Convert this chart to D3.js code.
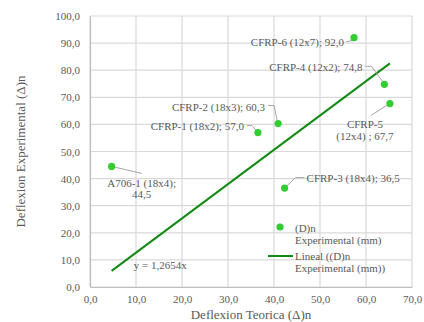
<!DOCTYPE html>
<html>
<head>
<meta charset="utf-8">
<script src="https://cdn.jsdelivr.net/npm/d3@7"></script>
<style>
  body { margin: 0; background: #fff; }
  text { font-family: "Liberation Serif", "Times New Roman", serif; fill: #595959; }
</style>
</head>
<body>
<div id="chart"></div>
<script>
// data
var names = ["A706-1 (18x4)", "CFRP-1 (18x2)", "CFRP-2 (18x3)", "CFRP-3 (18x4)", "CFRP-4 (12x2)", "CFRP-5 (12x4)", "CFRP-6 (12x7)"];
var teorica = [4.7, 36.5, 40.9, 42.3, 64.0, 65.2, 57.4];
var experimental = [44.5, 57.0, 60.3, 36.5, 74.8, 67.7, 92.0];
var slope = 1.2654;
var xTicks = [0, 10, 20, 30, 40, 50, 60, 70];
var yTicks = [0, 10, 20, 30, 40, 50, 60, 70, 80, 90, 100];

var margin = { top: 16, right: 12, bottom: 35, left: 90 },
    width = 424 - margin.left - margin.right,
    height = 322 - margin.top - margin.bottom;

var svg = d3.select("#chart").append("svg")
    .attr("width", 424).attr("height", 322)
    .append("g")
    .attr("transform", "translate(" + margin.left + "," + margin.top + ")");

var x = d3.scaleLinear().domain([0, 70]).range([0, width]);
var y = d3.scaleLinear().domain([0, 100]).range([height, 0]);
var fmt = function (v) { return d3.format(".1f")(v).replace(".", ","); };

// grid
svg.append("g").selectAll("line").data(xTicks).enter().append("line")
    .attr("x1", d => x(d)).attr("x2", d => x(d))
    .attr("y1", 0).attr("y2", height)
    .attr("stroke", "#d9d9d9").attr("stroke-width", 1.2);
svg.append("g").selectAll("line").data(yTicks).enter().append("line")
    .attr("x1", 0).attr("x2", width)
    .attr("y1", d => y(d)).attr("y2", d => y(d))
    .attr("stroke", "#d9d9d9").attr("stroke-width", 1.2);

// axes
var xAxis = svg.append("g")
    .attr("transform", "translate(0," + height + ")")
    .call(d3.axisBottom(x).tickValues(xTicks).tickFormat(fmt).tickSize(0).tickPadding(8));
var yAxis = svg.append("g")
    .call(d3.axisLeft(y).tickValues(yTicks).tickFormat(fmt).tickSize(0).tickPadding(10));
[xAxis, yAxis].forEach(function (a) {
  a.select(".domain").attr("stroke", "#bfbfbf").attr("stroke-width", 1.2);
  a.selectAll("text").attr("font-size", "11px").attr("font-family", "Liberation Serif").attr("fill", "#595959");
});

// axis titles
svg.append("text")
    .attr("x", width / 2).attr("y", height + 32)
    .attr("text-anchor", "middle").attr("font-size", "13px")
    .text("Deflexion Teorica (\u0394)n");
svg.append("text")
    .attr("transform", "translate(" + (20 - margin.left) + "," + (height / 2) + ") rotate(-90)")
    .attr("text-anchor", "middle").attr("dominant-baseline", "central").attr("font-size", "13px")
    .text("Deflexion Experimental (\u0394)n");

// trend line
var xMin = d3.min(teorica), xMax = d3.max(teorica);
svg.append("line")
    .attr("x1", x(xMin)).attr("y1", y(slope * xMin))
    .attr("x2", x(xMax)).attr("y2", y(slope * xMax))
    .attr("stroke", "#138a13").attr("stroke-width", 2);

svg.append("text")
    .attr("x", x(9.5)).attr("y", y(8.2))
    .attr("font-size", "11px").attr("dominant-baseline", "central")
    .text("y = " + String(slope).replace(".", ",") + "x");

// data labels: text offsets and leader lines relative to the point
var labelLayout = [
  { anchor: "middle", dx: 30, dy: [16.5, 28], lines: ["A706-1  (18x4);", "44,5"], leader: [[0, 0], [30, 7]] },
  { anchor: "end", dx: -14, dy: [-6.5], leader: [[-11, -7], [-6, -7], [-1, -1]] },
  { anchor: "end", dx: -13, dy: [-17], leader: [[-10, -18], [-4, -18], [-1, -3]] },
  { anchor: "start", dx: 22, dy: [-10.5], leader: [[20, -10.5], [11, -10.5], [2, -2]] },
  { anchor: "end", dx: -22, dy: [-17.5], leader: [[-19, -18], [-13, -18], [-2, -3]] },
  { anchor: "middle", dx: -25, dy: [20.5, 32], lines: ["CFRP-5", "(12x4)  ; 67,7"], leader: [[-19, 12], [-2, 1]] },
  { anchor: "end", dx: -10, dy: [4.5], leader: [[-8, 4], [-2, 3], [-1, 1]] }
];

var lbl = svg.append("g");
names.forEach(function (n, i) {
  var px = x(teorica[i]), py = y(experimental[i]);
  var L = labelLayout[i];
  lbl.append("path")
      .attr("d", d3.line()(L.leader.map(p => [px + p[0], py + p[1]])))
      .attr("fill", "none").attr("stroke", "#a6a6a6").attr("stroke-width", 1);
  var lines = L.lines || [n + "; " + fmt(experimental[i])];
  lines.forEach(function (t, k) {
    lbl.append("text")
        .attr("x", px + L.dx).attr("y", py + L.dy[k])
        .attr("text-anchor", L.anchor).attr("dominant-baseline", "central")
        .attr("font-size", "11px")
        .text(t);
  });
});

// points
svg.append("g").selectAll("circle").data(teorica).enter().append("circle")
    .attr("cx", d => x(d))
    .attr("cy", (d, i) => y(experimental[i]))
    .attr("r", 3.6)
    .attr("fill", "#33cc33");

// legend
var lg = svg.append("g");
lg.append("circle").attr("cx", 280 - margin.left).attr("cy", 227 - margin.top).attr("r", 3.6).attr("fill", "#33cc33");
lg.append("line")
    .attr("x1", 268 - margin.left).attr("x2", 293 - margin.left)
    .attr("y1", 256 - margin.top).attr("y2", 256 - margin.top)
    .attr("stroke", "#138a13").attr("stroke-width", 2);
[["(D)n", 228], ["Experimental (mm)", 239.5], ["Lineal ((D)n", 256], ["Experimental (mm))", 267.5]].forEach(function (t) {
  lg.append("text")
      .attr("x", 295 - margin.left).attr("y", t[1] - margin.top)
      .attr("dominant-baseline", "central").attr("font-size", "11px")
      .text(t[0]);
});
</script>
</body>
</html>
